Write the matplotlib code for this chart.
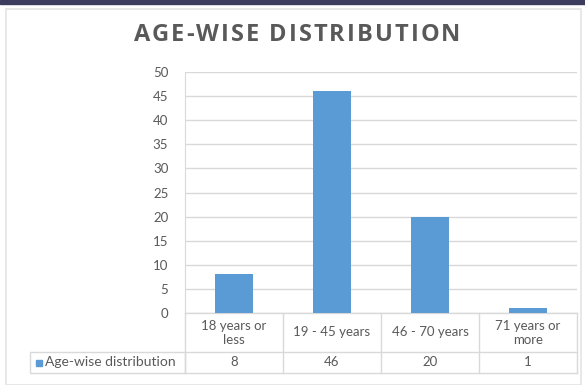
import matplotlib
matplotlib.use("Agg")
import matplotlib.pyplot as plt
from matplotlib.transforms import blended_transform_factory
from matplotlib.patches import Rectangle

categories = ["18 years or\nless", "19 - 45 years", "46 - 70 years", "71 years or\nmore"]
counts = [8, 46, 20, 1]
series_name = "Age-wise distribution"
title = "AGE-WISE DISTRIBUTION"
yticks = [0, 5, 10, 15, 20, 25, 30, 35, 40, 45, 50]

W, H = 585, 385
BLUE = "#5b9bd5"
GRID = "#d9d9d9"
TXT = "#595959"

plt.rcParams['font.family'] = ['Lato', 'DejaVu Sans']

fig = plt.figure(figsize=(W / 100, H / 100), dpi=100)
fig.patch.set_facecolor("white")

def px(x0, y0, x1, y1):
    # pixel box (top-left origin) -> figure fraction rect
    return [x0 / W, 1 - y1 / H, (x1 - x0) / W, (y1 - y0) / H]

# dark band on top and chart frame
fig.add_artist(Rectangle((0, 1 - 3.5 / H), 1, 3.5 / H, transform=fig.transFigure,
                         color="#3c3c5e", zorder=0))
fig.add_artist(Rectangle((6 / W, 0), 575 / W, 1 - 9 / H, transform=fig.transFigure,
                         facecolor="white", edgecolor="#e4e4e4", lw=1.2, zorder=0))

ax = fig.add_axes(px(185, 72, 577, 313))
x = list(range(len(categories)))
ax.bar(x, counts, width=0.39, color=BLUE, zorder=3)
ax.set_xlim(-0.5, len(categories) - 0.5)
ax.set_ylim(0, 50)
ax.set_yticks(yticks)
ax.set_xticks([])
ax.tick_params(axis="y", length=0, labelsize=9.5, labelcolor=TXT, pad=12)
ax.grid(axis="y", color=GRID, lw=1, zorder=0)
for s in ["top", "right", "bottom"]:
    ax.spines[s].set_visible(False)
ax.spines["left"].set_color(GRID)

# spaced-out title: place letters one by one with extra tracking
renderer = fig.canvas.get_renderer()
tkw = dict(fontsize=17, fontweight="bold", color=TXT, family=["Open Sans", "DejaVu Sans"],
           va="center", ha="left")
letters = [fig.text(0, 1 - 35 / H, ch, **tkw) for ch in title]
widths = []
for t in letters:
    bb = t.get_window_extent(renderer)
    widths.append(bb.width if t.get_text() != " " else 6.0)
target = 327.0
track = (target - sum(widths)) / (len(title) - 1)
xpos = 297 - target / 2
for t, w in zip(letters, widths):
    t.set_x(xpos / W)
    xpos += w + track

# data table under the axis
tr = blended_transform_factory(ax.transData, fig.transFigure)
y_top, y_mid, y_bot = 1 - 313 / H, 1 - 352 / H, 1 - 373 / H
n = len(categories)
for yy in (y_top, y_mid, y_bot):
    ax.plot([-0.5, n - 0.5], [yy, yy], transform=tr, color=GRID, lw=1, clip_on=False)
for i in range(n + 1):
    ax.plot([i - 0.5, i - 0.5], [y_top, y_bot], transform=tr, color=GRID, lw=1, clip_on=False)
for i, (c, v) in enumerate(zip(categories, counts)):
    ax.text(i, (y_top + y_mid) / 2, c, transform=tr, ha="center", va="center",
            fontsize=9.5, color=TXT, linespacing=1.2)
    ax.text(i, (y_mid + y_bot) / 2, str(v), transform=tr, ha="center", va="center",
            fontsize=9.5, color=TXT)

# legend key cell
fig.add_artist(Rectangle((30 / W, y_bot), 155 / W, y_mid - y_bot, transform=fig.transFigure,
                         facecolor="none", edgecolor=GRID, lw=1))
fig.add_artist(Rectangle((36 / W, 1 - 366 / H), 6 / W, 6 / H, transform=fig.transFigure,
                         color=BLUE))
fig.text(45 / W, (y_mid + y_bot) / 2, series_name, ha="left", va="center",
         fontsize=10, color=TXT)

fig.savefig("out.png", dpi=100)
